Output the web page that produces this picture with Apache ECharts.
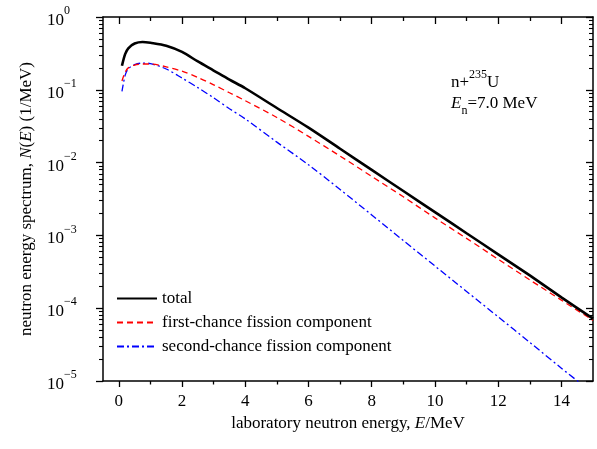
<!DOCTYPE html>
<html>
<head>
<meta charset="utf-8">
<script src="https://cdn.jsdelivr.net/npm/echarts@6/dist/echarts.min.js"></script>
<style>
html,body{margin:0;padding:0;background:#fff;}
#c{width:597px;height:449px;}
</style>
</head>
<body>
<div id="c"></div>
<script>
// Data
var energies = [0.1, 0.2, 0.3, 0.5, 0.75, 1.0, 1.5, 2.0, 2.5, 3.0, 3.5, 4.0, 5, 6, 7, 8, 9, 10, 11, 12, 13, 14, 15];
var totalSpec = [0.214, 0.309, 0.372, 0.432, 0.454, 0.442, 0.403, 0.331, 0.245, 0.184, 0.138, 0.105, 0.0562, 0.0302, 0.0155, 0.00794, 0.00407, 0.00209, 0.00107, 5.5e-4, 2.82e-4, 1.41e-4, 7.2e-5];
var firstChance = [0.132, 0.174, 0.200, 0.219, 0.226, 0.226, 0.207, 0.180, 0.148, 0.117, 0.0912, 0.0708, 0.0417, 0.0229, 0.0123, 0.00646, 0.00339, 0.00174, 9.1e-4, 4.7e-4, 2.45e-4, 1.29e-4, 6.8e-5];
var secondChance = [0.095, 0.158, 0.195, 0.221, 0.233, 0.229, 0.193, 0.145, 0.107, 0.0776, 0.0550, 0.0398, 0.0191, 0.00933, 0.00427, 0.00191, 8.5e-4, 3.8e-4, 1.7e-4, 7.6e-5, 3.4e-5, 1.5e-5, 6.8e-6];
var xMajorTicks = [0, 2, 4, 6, 8, 10, 12, 14];
var xMinorTicks = [1, 3, 5, 7, 9, 11, 13];
var yMajorTicks = [1e-5, 1e-4, 1e-3, 1e-2, 1e-1, 1];
var seriesNames = ['total', 'first-chance fission component', 'second-chance fission component'];

var yMinorTicks = [];
for (var d = -5; d < 0; d++) {
  for (var m = 2; m <= 9; m++) yMinorTicks.push(m * Math.pow(10, d));
}
function pairs(ys) { return energies.map(function (e, i) { return [e, ys[i]]; }); }

var FONT = '"Liberation Serif", "Times New Roman", serif';
var lineCol = '#000';
var tickCol = '#000';
var X_MIN = -0.5, X_MAX = 15, Y_MIN = 1e-5, Y_MAX = 1;

function xAx(opt, showLine) {
  return Object.assign({
    type: 'value', min: X_MIN, max: X_MAX, position: 'bottom',
    axisLine: { show: showLine, onZero: false, lineStyle: { color: lineCol, width: 1.5 } },
    splitLine: { show: false },
    axisLabel: { show: false }
  }, opt);
}
function yAx(opt, showLine) {
  return Object.assign({
    type: 'log', logBase: 10, min: Y_MIN, max: Y_MAX, position: 'left',
    axisLine: { show: showLine, onZero: false, lineStyle: { color: lineCol, width: 1.5 } },
    splitLine: { show: false },
    axisLabel: { show: false }
  }, opt);
}

var richBase = {
  n: { fontFamily: FONT, fontSize: 17, color: '#000' },
  i: { fontFamily: FONT, fontSize: 17, color: '#000', fontStyle: 'italic' }
};

var option = {
  animation: false,
  backgroundColor: '#fff',
  grid: { left: 103, right: 4, top: 17, bottom: 68, containLabel: false },
  title: [
    {
      left: 446, top: 64,
      text: '{a|n+}{s|235}{a|U}',
      textStyle: { fontWeight: 'normal', rich: {
        a: { fontFamily: FONT, fontSize: 17, fontWeight: 'normal', color: '#000', lineHeight: 22, verticalAlign: 'bottom' },
        s: { fontFamily: FONT, fontSize: 12, fontWeight: 'normal', color: '#000', lineHeight: 22, verticalAlign: 'top' }
      } }
    },
    {
      left: 446, top: 90,
      text: '{i|E}{b|n}{a|=7.0 MeV}',
      textStyle: { fontWeight: 'normal', rich: {
        a: { fontFamily: FONT, fontSize: 17, fontWeight: 'normal', color: '#000', lineHeight: 22, verticalAlign: 'top' },
        i: { fontFamily: FONT, fontSize: 17, fontWeight: 'normal', color: '#000', fontStyle: 'italic', lineHeight: 22, verticalAlign: 'top' },
        b: { fontFamily: FONT, fontSize: 12, fontWeight: 'normal', color: '#000', lineHeight: 22, verticalAlign: 'bottom' }
      } }
    }
  ],
  legend: {
    left: 111, top: 285, orient: 'vertical',
    itemWidth: 40, itemHeight: 14, itemGap: 7,
    textStyle: { fontFamily: FONT, fontSize: 17, color: '#000' },
    itemStyle: { opacity: 0 },
    data: seriesNames
  },
  xAxis: [
    xAx({
      name: '{n|laboratory neutron energy, }{i|E}{n|/MeV}',
      nameLocation: 'middle', nameGap: 34,
      nameTextStyle: { rich: richBase },
      axisTick: { show: true, inside: false, length: 6, lineStyle: { color: tickCol, width: 1.3 }, customValues: xMajorTicks },
      axisLabel: { show: true, margin: 12, fontFamily: FONT, fontSize: 17, color: '#000', customValues: xMajorTicks }
    }, true),
    xAx({ axisTick: { show: true, inside: false, length: 3.5, lineStyle: { color: tickCol, width: 1.3 }, customValues: xMinorTicks } }, false),
    xAx({ position: 'top', axisTick: { show: true, inside: true, length: 7, lineStyle: { color: tickCol, width: 1.3 }, customValues: xMajorTicks } }, true),
    xAx({ position: 'top', axisTick: { show: true, inside: true, length: 4, lineStyle: { color: tickCol, width: 1.3 }, customValues: xMinorTicks } }, false)
  ],
  yAxis: [
    yAx({
      name: '{n|neutron energy spectrum, }{i|N}{n|(}{i|E}{n|) (1/MeV)}',
      nameLocation: 'middle', nameGap: 68, nameRotate: 90,
      nameTextStyle: { rich: richBase },
      axisTick: { show: true, inside: false, length: 7, lineStyle: { color: tickCol, width: 1.3 }, customValues: yMajorTicks },
      axisLabel: {
        show: true, margin: 56, align: 'left', customValues: yMajorTicks,
        formatter: function (v) {
          var e = Math.round(Math.log10(v));
          var s = e < 0 ? '\u2212' + (-e) : String(e);
          return '{b|10}{s|' + s + '}';
        },
        rich: {
          b: { fontFamily: FONT, fontSize: 17, color: '#000', lineHeight: 24, verticalAlign: 'bottom' },
          s: { fontFamily: FONT, fontSize: 12, color: '#000', lineHeight: 24, verticalAlign: 'top' }
        }
      }
    }, true),
    yAx({ axisTick: { show: true, inside: false, length: 4, lineStyle: { color: tickCol, width: 1.1 }, customValues: yMinorTicks } }, false),
    yAx({ position: 'right', axisTick: { show: true, inside: true, length: 7, lineStyle: { color: tickCol, width: 1.3 }, customValues: yMajorTicks } }, true),
    yAx({ position: 'right', axisTick: { show: true, inside: true, length: 4, lineStyle: { color: tickCol, width: 1.1 }, customValues: yMinorTicks } }, false)
  ],
  series: [
    {
      name: seriesNames[0], type: 'line', xAxisIndex: 0, yAxisIndex: 0,
      data: pairs(totalSpec), symbol: 'none', smooth: 0.3, clip: true,
      lineStyle: { color: '#000', width: 2.6, type: 'solid' },
      itemStyle: { color: '#000', opacity: 0 }, z: 5
    },
    {
      name: seriesNames[1], type: 'line', xAxisIndex: 0, yAxisIndex: 0,
      data: pairs(firstChance), symbol: 'none', smooth: 0.3, clip: true,
      lineStyle: { color: '#ff0000', width: 1.3, type: [6, 4] },
      itemStyle: { color: '#ff0000', opacity: 0 }, z: 4
    },
    {
      name: seriesNames[2], type: 'line', xAxisIndex: 0, yAxisIndex: 0,
      data: pairs(secondChance), symbol: 'none', smooth: 0.3, clip: true,
      lineStyle: { color: '#0000ff', width: 1.3, type: [7, 3, 2, 3] },
      itemStyle: { color: '#0000ff', opacity: 0 }, z: 3
    }
  ]
};

var chart = echarts.init(document.getElementById('c'), null, { renderer: 'canvas' });
chart.setOption(option);
</script>
</body>
</html>
